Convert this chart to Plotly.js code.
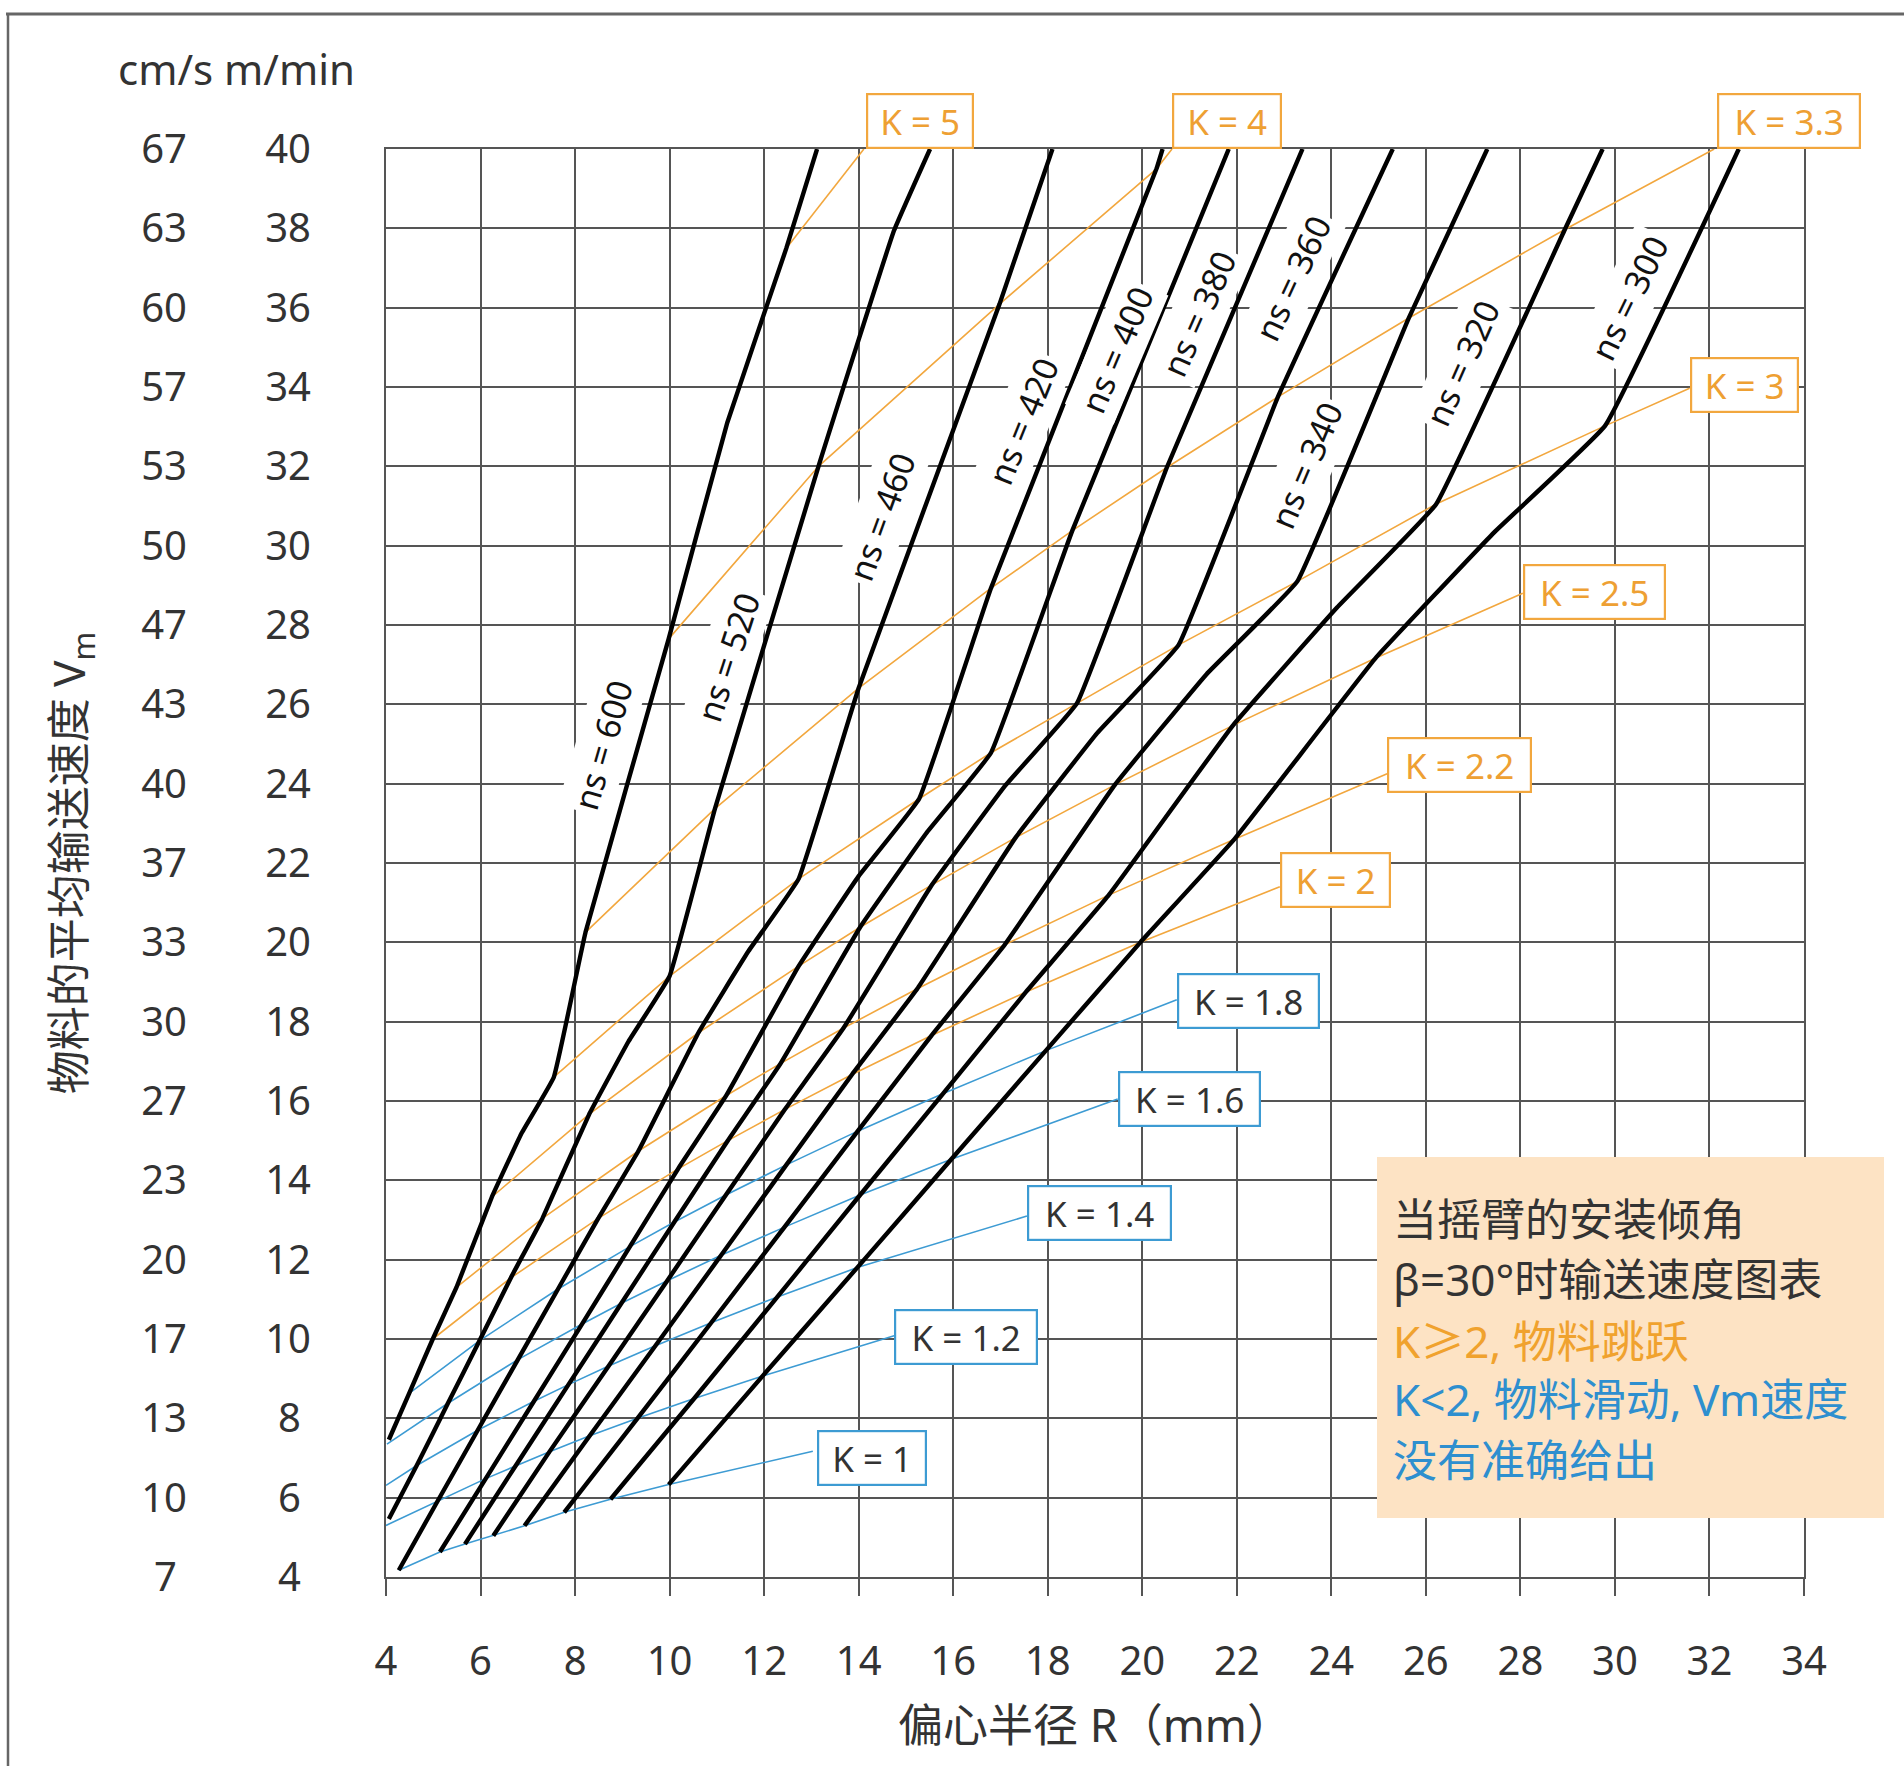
<!DOCTYPE html>
<html>
<head>
<meta charset="utf-8">
<script src="https://cdn.plot.ly/plotly-3.0.1.min.js"></script>
<style>
html,body{margin:0;padding:0;background:#ffffff;}
#chart{width:1904px;height:1766px;}
</style>
</head>
<body>
<div id="chart"></div>
<script>
// ---------------- tick labels ----------------
const xTicks = [4,6,8,10,12,14,16,18,20,22,24,26,28,30,32,34];
const yTicksMmin = [4,6,8,10,12,14,16,18,20,22,24,26,28,30,32,34,36,38,40];
const yTicksCms = [7,10,13,17,20,23,27,30,33,37,40,43,47,50,53,57,60,63,67];

// ---------------- ns curves (R in mm, Vm in m/min) ----------------
const nsNames = ['600','520','460','420','400','380','360','340','320','300'];
const ns600_R = [4.06,4.49,4.99,5.49,6.24,6.86,7.55,8.22,9.98,11.22,12.47,13.12];
const ns600_V = [7.46,8.63,10.0,11.3,13.58,15.17,16.6,20.25,27.65,33.1,37.5,40];
const ns520_R = [4.06,4.65,5.31,5.98,6.64,7.31,8.30,9.13,10.0,10.96,13.15,14.75,15.51];
const ns520_V = [5.46,6.81,8.38,9.96,11.54,13.04,15.67,17.5,19.15,23.37,32.0,37.95,40];
const ns460_R = [4.27,5.09,5.94,6.79,7.64,8.49,9.34,10.61,11.67,12.73,14.0,16.98,18.10];
const ns460_V = [4.17,5.91,7.70,9.48,11.26,13.04,14.74,17.72,19.78,21.6,26.41,36.09,40];
const ns420_R = [5.14,6.11,7.13,8.15,9.16,10.18,11.20,12.73,14.0,15.28,16.80,20.30,20.43];
const ns420_V = [4.63,6.48,8.43,10.38,12.33,14.29,16.14,19.40,21.67,23.62,28.93,39.5,40];
const ns400_R = [5.67,6.74,7.86,8.98,10.10,11.23,12.35,14.03,15.43,16.8,18.52,21.83];
const ns400_V = [4.83,6.8,8.85,10.9,12.95,15.0,16.95,20.38,22.75,24.78,30.38,40];
const ns380_R = [6.27,7.46,8.71,9.95,11.19,12.44,13.68,15.55,17.10,18.62,20.52,23.39];
const ns380_V = [5.04,7.16,9.32,11.47,13.63,15.79,17.84,21.45,23.95,26.03,31.97,40];
const ns360_R = [6.93,8.31,9.70,11.09,12.47,13.86,15.24,17.32,19.05,20.77,22.87,25.30];
const ns360_V = [5.29,7.56,9.83,12.11,14.39,16.67,18.83,22.64,25.28,27.5,33.75,40];
const ns340_R = [7.77,9.32,10.88,12.43,13.98,15.54,17.09,19.42,21.36,23.28,25.64,27.30];
const ns340_V = [5.63,8.0,10.41,12.82,15.24,17.65,19.94,23.97,26.76,29.1,35.74,40];
const ns320_R = [8.75,10.52,12.28,14.03,15.79,17.54,19.29,21.92,24.12,26.22,28.94,29.74];
const ns320_V = [5.96,8.5,11.06,13.63,16.19,18.75,21.19,25.47,28.44,31.05,37.97,40];
const ns300_R = [9.98,11.97,13.97,15.96,17.96,19.96,21.95,24.94,27.44,29.79,32.62];
const ns300_V = [6.33,9.07,11.8,14.53,17.27,20.0,22.6,27.17,30.33,33.02,40];

// ---------------- K curves ----------------
const kNames = ['1','1.2','1.4','1.6','1.8','2','2.2','2.5','3','3.3','4','5'];
const k1_R = [4.27,5.14,5.67,6.27,6.93,7.77,8.75,9.98,13.03];
const k1_V = [4.17,4.63,4.83,5.04,5.29,5.63,5.96,6.33,7.17];
const k12_R = [4.0,5.09,6.11,6.74,7.46,8.31,9.32,10.52,11.97,14.75];
const k12_V = [5.3,5.91,6.48,6.8,7.16,7.56,8.0,8.5,9.07,10.08];
const k14_R = [4.0,4.65,5.94,7.13,7.86,8.71,9.70,10.88,12.28,13.97,17.56];
const k14_V = [6.31,6.81,7.70,8.43,8.85,9.32,9.83,10.41,11.06,11.8,13.1];
const k16_R = [4.02,5.31,6.79,8.15,8.98,9.95,11.09,12.43,14.03,15.96,19.48];
const k16_V = [7.35,8.38,9.48,10.38,10.9,11.47,12.11,12.82,13.63,14.53,16.05];
const k18_R = [4.49,5.98,7.64,9.16,10.10,11.19,12.47,13.98,15.79,17.96,20.73];
const k18_V = [8.63,9.96,11.26,12.33,12.95,13.63,14.39,15.24,16.19,17.27,18.55];
const k2_R = [4.99,6.64,8.49,10.18,11.23,12.44,13.86,15.54,17.54,19.96,22.91];
const k2_V = [10.0,11.54,13.04,14.29,15.0,15.79,16.67,17.65,18.75,20.0,21.4];
const k22_R = [5.49,7.31,9.34,11.20,12.35,13.68,15.24,17.09,19.29,21.95,25.18];
const k22_V = [11.3,13.04,14.74,16.14,16.95,17.84,18.83,19.94,21.19,22.6,24.25];
const k25_R = [6.24,8.30,10.61,12.73,14.03,15.55,17.32,19.42,21.92,24.94,28.05];
const k25_V = [13.58,15.67,17.72,19.40,20.38,21.45,22.64,23.97,25.47,27.17,28.8];
const k3_R = [7.55,10.0,12.73,15.28,16.8,18.62,20.77,23.28,26.22,29.79,31.58];
const k3_V = [16.6,19.15,21.6,23.62,24.78,26.03,27.5,29.1,31.05,33.02,33.97];
const k33_R = [8.22,10.96,14.0,16.80,18.52,20.52,22.87,25.64,28.94,32.1];
const k33_V = [20.25,23.37,26.41,28.93,30.38,31.97,33.75,35.74,37.97,40];
const k4_R = [9.98,13.15,16.98,20.30,20.63];
const k4_V = [27.65,32.0,36.09,39.5,40];
const k5_R = [12.47,14.11];
const k5_V = [37.5,40];

// ---------------- styling ----------------
const FONT = "'Noto Sans', 'Noto Sans CJK SC', sans-serif";
const GRID = '#555555';
const ORANGE = '#f2a73e';
const ORANGE_TXT = '#eea033';
const BLUE = '#3d9bd3';
const TXT = '#333333';

// plot geometry helpers (paper coords) -- margin l=40, r=100, t=149, b=189
const W = 1904, H = 1766, ML = 40, MR = 100, MT = 149, MB = 189;
const PW = W - ML - MR, PH = H - MT - MB;
const px2paperX = p => (p - ML) / PW;
const py2paperY = p => (H - MB - p) / PH;

const nsR = [ns600_R,ns520_R,ns460_R,ns420_R,ns400_R,ns380_R,ns360_R,ns340_R,ns320_R,ns300_R];
const nsV = [ns600_V,ns520_V,ns460_V,ns420_V,ns400_V,ns380_V,ns360_V,ns340_V,ns320_V,ns300_V];
const kR = [k1_R,k12_R,k14_R,k16_R,k18_R,k2_R,k22_R,k25_R,k3_R,k33_R,k4_R,k5_R];
const kV = [k1_V,k12_V,k14_V,k16_V,k18_V,k2_V,k22_V,k25_V,k3_V,k33_V,k4_V,k5_V];

const traces = [];
kNames.forEach((k,i) => {
  const jump = parseFloat(k) >= 2;
  traces.push({x:kR[i], y:kV[i], type:'scatter', mode:'lines', name:'K = '+k,
    line:{color: jump ? ORANGE : BLUE, width:1.6}, hoverinfo:'skip', showlegend:false});
});
nsNames.forEach((n,i) => {
  traces.push({x:nsR[i], y:nsV[i], type:'scatter', mode:'lines', name:'ns = '+n,
    line:{color:'#000000', width:4.4, shape:'spline', smoothing:0.25}, hoverinfo:'skip', showlegend:false});
});
// anchor trace for the cm/s axis
traces.push({x:[xTicks[0]], y:[yTicksMmin[0]], yaxis:'y2', type:'scatter', mode:'markers',
  marker:{size:0.1, opacity:0}, hoverinfo:'skip', showlegend:false});

const pad1 = v => (String(v).length === 1 ? String(v) + '\u2005' : String(v));

// ns label placement (layout)
const nsLabelPos = [
  [8.58,24.98,-74],[11.23,27.2,-72],[14.49,30.74,-70],[17.47,33.15,-68],[19.45,34.94,-67],
  [21.20,35.86,-66],[23.18,36.75,-65],[23.46,32.04,-67],[26.77,34.6,-66],[30.3,36.24,-64]
];
const annotations = [];
nsNames.forEach((n,i) => {
  const p = nsLabelPos[i];
  annotations.push({x:p[0], y:p[1], xref:'x', yref:'y', text:'ns = '+n, showarrow:false,
    textangle:p[2], font:{family:FONT, size:34, color:'#111'}, bgcolor:'#ffffff', borderpad:3,
    xanchor:'center', yanchor:'middle'});
});

// K label boxes (layout positions)
const kBoxPos = {
  '5':  {x:14.16, top:true, w:96},
  '4':  {x:20.63, top:true, w:98},
  '3.3':{x:32.16, top:true, w:132},
  '3':  {x:31.58, y:34.05, w:97},
  '2.5':{x:28.05, y:28.83, w:131},
  '2.2':{x:25.18, y:24.47, w:133},
  '2':  {x:22.91, y:21.56, w:99},
  '1.8':{x:20.73, y:18.53, w:131},
  '1.6':{x:19.48, y:16.04, w:131},
  '1.4':{x:17.56, y:13.17, w:133},
  '1.2':{x:14.75, y:10.05, w:132},
  '1':  {x:13.12, y:7.0,  w:98}
};
kNames.forEach(k => {
  const b = kBoxPos[k];
  const jump = parseFloat(k) >= 2;
  const a = {x:b.x, xref:'x', xanchor:'left', text:'K = '+k, showarrow:false,
    font:{family:FONT, size:35, color: jump ? ORANGE_TXT : TXT},
    bgcolor:'#ffffff', bordercolor: jump ? ORANGE : BLUE, borderwidth:2.2, borderpad:4,
    width:b.w, height:44, align:'center', valign:'middle'};
  if (b.top) { a.yref = 'paper'; a.y = 1; a.yanchor = 'bottom'; }
  else { a.yref = 'y'; a.y = b.y; a.yanchor = 'middle'; }
  annotations.push(a);
});

// unit header
annotations.push({xref:'paper', yref:'paper', x:px2paperX(236), y:py2paperY(69),
  text:'cm/s m/min', showarrow:false, font:{family:FONT, size:42, color:TXT},
  xanchor:'center', yanchor:'middle'});

// note box text
const noteLines = [
  ['当摇臂的安装倾角', TXT, 1219],
  ['β=30°时输送速度图表', TXT, 1279],
  ['K≥2, 物料跳跃', '#f0a22e', 1341],
  ['K&lt;2, 物料滑动, Vm速度', '#2e8fcf', 1399],
  ['没有准确给出', '#2e8fcf', 1460]
];
noteLines.forEach(l => {
  annotations.push({xref:'paper', yref:'paper', x:px2paperX(1391), y:py2paperY(l[2]),
    text:l[0], showarrow:false, font:{family:FONT, size:44, color:l[1]},
    xanchor:'left', yanchor:'middle'});
});

const shapes = [
  // note box
  {type:'rect', xref:'paper', yref:'paper', x0:px2paperX(1377), x1:px2paperX(1884),
   y0:py2paperY(1157), y1:py2paperY(1518), fillcolor:'#fde3c4', line:{width:0}, layer:'above'},
  // outer frame (top and left)
  {type:'line', xref:'paper', yref:'paper', x0:px2paperX(6), x1:px2paperX(1910),
   y0:py2paperY(14), y1:py2paperY(14), line:{color:'#666666', width:3}},
  {type:'line', xref:'paper', yref:'paper', x0:px2paperX(8), x1:px2paperX(8),
   y0:py2paperY(14), y1:py2paperY(1775), line:{color:'#666666', width:2.5}}
];

const layout = {
  width:W, height:H,
  margin:{l:ML, r:MR, t:MT, b:MB, pad:0},
  paper_bgcolor:'#ffffff', plot_bgcolor:'#ffffff',
  font:{family:FONT, color:TXT},
  showlegend:false,
  xaxis:{
    domain:[px2paperX(386), 1], range:[4,34], tickmode:'array', tickvals:xTicks,
    ticktext:xTicks.map(String),
    showgrid:true, gridcolor:GRID, gridwidth:2, zeroline:false,
    showline:true, linecolor:GRID, linewidth:2, mirror:true,
    ticks:'outside', ticklen:17, tickwidth:2, tickcolor:GRID,
    tickfont:{family:FONT, size:40, color:TXT}, ticklabelstandoff:31,
    title:{text:'偏心半径 R（mm）', font:{family:FONT, size:45, color:TXT}, standoff:24},
    fixedrange:true
  },
  yaxis:{
    range:[4,40], tickmode:'array', tickvals:yTicksMmin, ticktext:yTicksMmin.map(pad1),
    showgrid:true, gridcolor:GRID, gridwidth:2, zeroline:false,
    showline:true, linecolor:GRID, linewidth:2, mirror:true,
    ticks:'', tickfont:{family:FONT, size:40, color:TXT}, ticklabelstandoff:65,
    fixedrange:true
  },
  yaxis2:{
    overlaying:'y', anchor:'free', side:'left', position:px2paperX(187),
    range:[4,40], tickmode:'array', tickvals:yTicksMmin, ticktext:yTicksCms.map(pad1),
    showgrid:false, zeroline:false, showline:false, ticks:'',
    tickfont:{family:FONT, size:40, color:TXT},
    title:{text:'物料的平均输送速度 V<sub>m</sub>', font:{family:FONT, size:44, color:TXT}, standoff:40},
    fixedrange:true
  },
  annotations:annotations,
  shapes:shapes
};

Plotly.newPlot('chart', traces, layout, {staticPlot:true, displayModeBar:false});
</script>
</body>
</html>
